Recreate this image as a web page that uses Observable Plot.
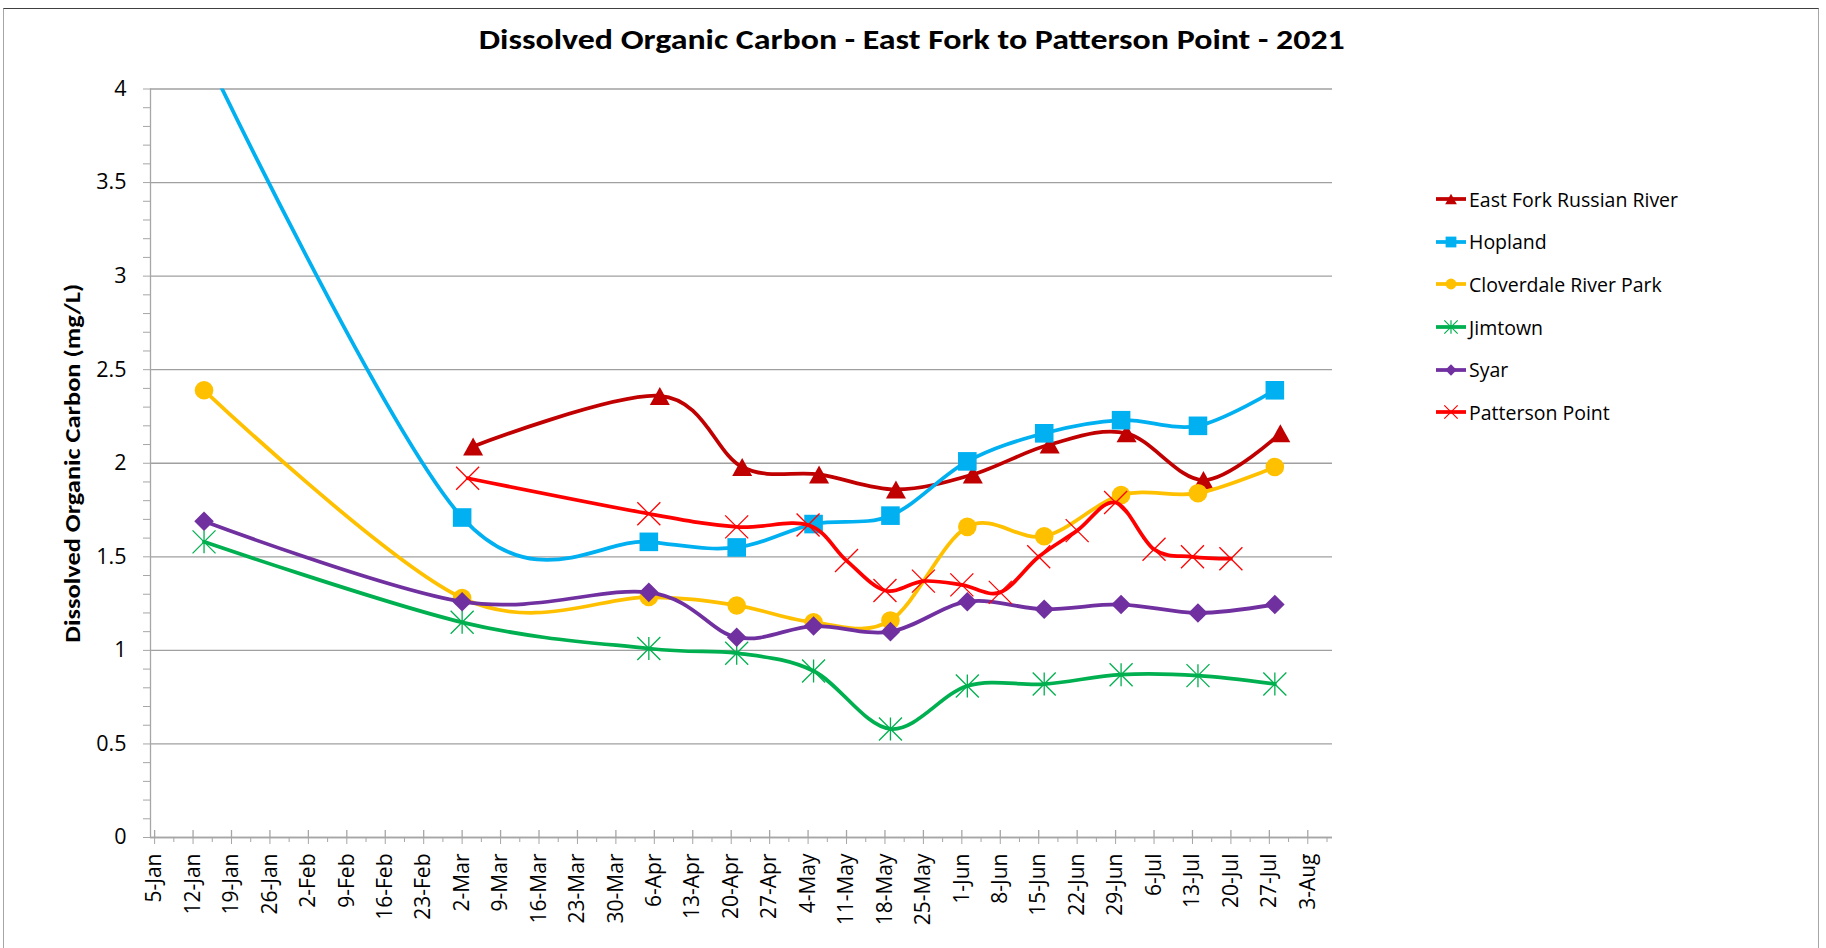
<!DOCTYPE html>
<html>
<head>
<meta charset="utf-8">
<script src="https://cdn.jsdelivr.net/npm/d3@7"></script>
<script src="https://cdn.jsdelivr.net/npm/@observablehq/plot@0.6"></script>
<style>
html, body { margin: 0; padding: 0; background: #fff; }
#chart { position: absolute; left: 3px; top: 8px; width: 1814px; height: 960px;
  border: 1px solid #a6a6a6; border-top: 1px solid #404040; background: #fff; overflow: hidden; }
#title { height: 62px; line-height: 62px; text-align: center; padding-left: 2px;
  font-family: Carlito, "Liberation Sans Narrow", "Liberation Sans", Arial, sans-serif;
  font-weight: bold; font-size: 28px; white-space: nowrap; color: #000; }
#title span { display: inline-block; transform-origin: 50% 50%; }
#plot { position: absolute; left: 0; top: 62px; }
#legend { position: absolute; left: 1431px; top: 169px; font-family: "Open Sans", sans-serif; font-size: 19.5px; color: #000; }
#legend .item { height: 42.6px; display: flex; align-items: center; white-space: nowrap; }
#legend svg { display: block; margin-right: 2px; }
</style>
</head>
<body>
<div id="chart">
  <div id="title"><span>Dissolved Organic Carbon - East Fork to Patterson Point - 2021</span></div>
  <div id="plot"></div>
  <div id="legend"></div>
</div>
<script>
// ---------- data ----------
const chartTitle = "Dissolved Organic Carbon - East Fork to Patterson Point - 2021";
const yAxisTitle = "Dissolved Organic Carbon (mg/L)";

const xTickLabels = ["5-Jan","12-Jan","19-Jan","26-Jan","2-Feb","9-Feb","16-Feb","23-Feb",
  "2-Mar","9-Mar","16-Mar","23-Mar","30-Mar","6-Apr","13-Apr","20-Apr","27-Apr",
  "4-May","11-May","18-May","25-May","1-Jun","8-Jun","15-Jun","22-Jun","29-Jun",
  "6-Jul","13-Jul","20-Jul","27-Jul","3-Aug"];
const yTickValues = [0, 0.5, 1, 1.5, 2, 2.5, 3, 3.5, 4];

const seriesNames = ["East Fork Russian River", "Hopland", "Cloverdale River Park", "Jimtown", "Syar", "Patterson Point"];
const seriesColors = ["#C00000", "#00B0F0", "#FFC000", "#00B050", "#7030A0", "#FF0000"];

const eastForkDates = ["2021-03-04","2021-04-07","2021-04-22","2021-05-06","2021-05-20","2021-06-03","2021-06-17","2021-07-01","2021-07-15","2021-07-29"];
const eastForkValues = [2.09, 2.36, 1.98, 1.94, 1.86, 1.94, 2.10, 2.16, 1.91, 2.16];

const hoplandDates = ["2021-01-14","2021-03-02","2021-04-05","2021-04-21","2021-05-05","2021-05-19","2021-06-02","2021-06-16","2021-06-30","2021-07-14","2021-07-28"];
const hoplandValues = [4.2, 1.71, 1.58, 1.55, 1.675, 1.72, 2.01, 2.16, 2.23, 2.20, 2.39];

const cloverdaleDates = hoplandDates;
const cloverdaleValues = [2.39, 1.28, 1.285, 1.24, 1.15, 1.16, 1.66, 1.61, 1.83, 1.84, 1.98];

const jimtownDates = hoplandDates;
const jimtownValues = [1.58, 1.15, 1.01, 0.985, 0.89, 0.58, 0.81, 0.82, 0.87, 0.865, 0.82];

const syarDates = hoplandDates;
const syarValues = [1.69, 1.26, 1.31, 1.07, 1.13, 1.10, 1.26, 1.22, 1.245, 1.20, 1.245];

const pattersonDates = ["2021-03-03","2021-04-05","2021-04-21","2021-05-04","2021-05-11","2021-05-18","2021-05-25","2021-06-01","2021-06-08","2021-06-15","2021-06-22","2021-06-29","2021-07-06","2021-07-13","2021-07-20"];
const pattersonValues = [1.92, 1.73, 1.66, 1.67, 1.48, 1.32, 1.37, 1.35, 1.31, 1.50, 1.64, 1.79, 1.54, 1.50, 1.49];

// ---------- marker symbols (Excel-like) ----------
const rad = s => Math.sqrt(s / Math.PI);
const symTriangle = { draw(c, s) { const r = rad(s); c.moveTo(0, -0.9 * r); c.lineTo(r, 0.9 * r); c.lineTo(-r, 0.9 * r); c.closePath(); } };
const symSquare = { draw(c, s) { const r = rad(s); c.rect(-r, -r, 2 * r, 2 * r); } };
const symDiamond = { draw(c, s) { const r = rad(s); c.moveTo(0, -r); c.lineTo(r, 0); c.lineTo(0, r); c.lineTo(-r, 0); c.closePath(); } };
const symStar = { draw(c, s) { const r = rad(s); c.moveTo(-r, -r); c.lineTo(r, r); c.moveTo(r, -r); c.lineTo(-r, r); c.moveTo(0, -r); c.lineTo(0, r); } };
const symX = { draw(c, s) { const r = rad(s); c.moveTo(-r, -r); c.lineTo(r, r); c.moveTo(r, -r); c.lineTo(-r, r); } };

const parseDay = d3.utcParse("%Y-%m-%d");
const parseTick = d3.utcParse("%d-%b-%Y");
const fmtTick = d3.utcFormat("%-d-%b");

const seriesDates = [eastForkDates, hoplandDates, cloverdaleDates, jimtownDates, syarDates, pattersonDates];
const seriesValues = [eastForkValues, hoplandValues, cloverdaleValues, jimtownValues, syarValues, pattersonValues];
const seriesSymbols = [symTriangle, symSquare, "circle", symStar, symDiamond, symX];
const seriesR = [10, 9.3, 9.3, 11.5, 9.8, 11.5];
const seriesFilled = [true, true, true, false, true, false];

const series = seriesNames.map((name, k) => ({
  name, color: seriesColors[k], symbol: seriesSymbols[k], r: seriesR[k], filled: seriesFilled[k],
  rows: seriesDates[k].map((d, i) => ({ date: parseDay(d), value: seriesValues[k][i] }))
}));

// ---------- layout ----------
const W = 1400, H = 877;
const mL = 146, mR = 72, mT = 17.5, mB = 111;
const frameH = H - mT - mB;
const xTicks = xTickLabels.map(l => parseTick(l + "-2021"));
const xMinor = xTicks.map(d => new Date(+d + 3.5 * 864e5));
const yMinor = d3.range(0, 41).map(i => i / 10);
const xDomain = [new Date(Date.UTC(2021, 0, 4, 6)), new Date(Date.UTC(2021, 7, 7, 12))];
const axisGray = "#a6a6a6";
const yLab = d => (Math.round(d * 10) % 5 === 0 ? String(+d.toFixed(1)) : "");

const marks = [
  Plot.gridY({ ticks: yTickValues, stroke: "#a0a0a0", strokeOpacity: 1, strokeWidth: 1.3 }),
  Plot.ruleY([0], { stroke: axisGray, strokeWidth: 1.3 }),
  Plot.ruleX([xDomain[0]], { stroke: axisGray, strokeWidth: 1.3 }),
  Plot.axisY({ ticks: yMinor, tickSize: 7, tickPadding: 17, tickFormat: yLab, stroke: axisGray,
    fontSize: 21.5, label: null, fill: "#000" }),
  Plot.axisX({ ticks: xTicks, tickSize: 7, tickPadding: 9, tickRotate: -90, tickFormat: fmtTick,
    stroke: axisGray, fontSize: 21, label: null, fill: "#000" }),
  Plot.axisX({ ticks: xMinor, tickSize: 5, tickFormat: () => "", stroke: axisGray, label: null }),
  Plot.tickX(xTicks, { x: d => d, insetTop: frameH - 7, stroke: axisGray, strokeWidth: 1.3 })
];

series.forEach(s => {
  marks.push(Plot.line(s.rows, { x: "date", y: "value", stroke: s.color, strokeWidth: 3.75,
    curve: "cardinal", tension: 0, clip: true }));
  marks.push(Plot.dot(s.rows, { x: "date", y: "value", symbol: s.symbol, r: s.r, clip: true,
    fill: s.filled ? s.color : "none", stroke: s.filled ? "none" : s.color, strokeWidth: 1.3 }));
});

marks.push(Plot.text([yAxisTitle], { text: d => d, frameAnchor: "left", dx: -78, rotate: -90,
  fontSize: 22, fontWeight: "bold", fill: "#000", textAnchor: "middle",
  fontFamily: 'Carlito, "Liberation Sans Narrow", "Liberation Sans", Arial, sans-serif' }));

const chart = Plot.plot({
  width: W, height: H,
  marginLeft: mL, marginRight: mR, marginTop: mT, marginBottom: mB,
  style: { fontFamily: '"Open Sans", sans-serif', color: "#000", background: "#fff", overflow: "visible" },
  x: { type: "utc", domain: xDomain },
  y: { domain: [0, 4] },
  marks
});
document.getElementById("plot").appendChild(chart);

// y-axis title length like reference
chart.querySelectorAll("text").forEach(t => {
  if (t.textContent === yAxisTitle) { t.setAttribute("textLength", 359); t.setAttribute("lengthAdjust", "spacingAndGlyphs"); }
});

// title width
const span = document.querySelector("#title span");
span.textContent = chartTitle;
const tw = span.getBoundingClientRect().width;
span.style.transform = `scaleX(${866 / tw})`;

// legend
const legend = d3.select("#legend");
series.forEach(s => {
  const item = legend.append("div").attr("class", "item");
  const sv = item.append("svg").attr("width", 32).attr("height", 20);
  sv.append("line").attr("x1", 1).attr("x2", 31).attr("y1", 10).attr("y2", 10)
    .attr("stroke", s.color).attr("stroke-width", 3.75);
  const rr = s.r * 0.58;
  if (s.symbol === "circle") {
    sv.append("circle").attr("cx", 16).attr("cy", 10).attr("r", rr).attr("fill", s.color);
  } else {
    const p = d3.path(); s.symbol.draw(p, rr * rr * Math.PI);
    sv.append("path").attr("transform", "translate(16,10)").attr("d", p.toString())
      .attr("fill", s.filled ? s.color : "none").attr("stroke", s.filled ? "none" : s.color).attr("stroke-width", 1.2);
  }
  item.append("span").text(s.name);
});
</script>
</body>
</html>
